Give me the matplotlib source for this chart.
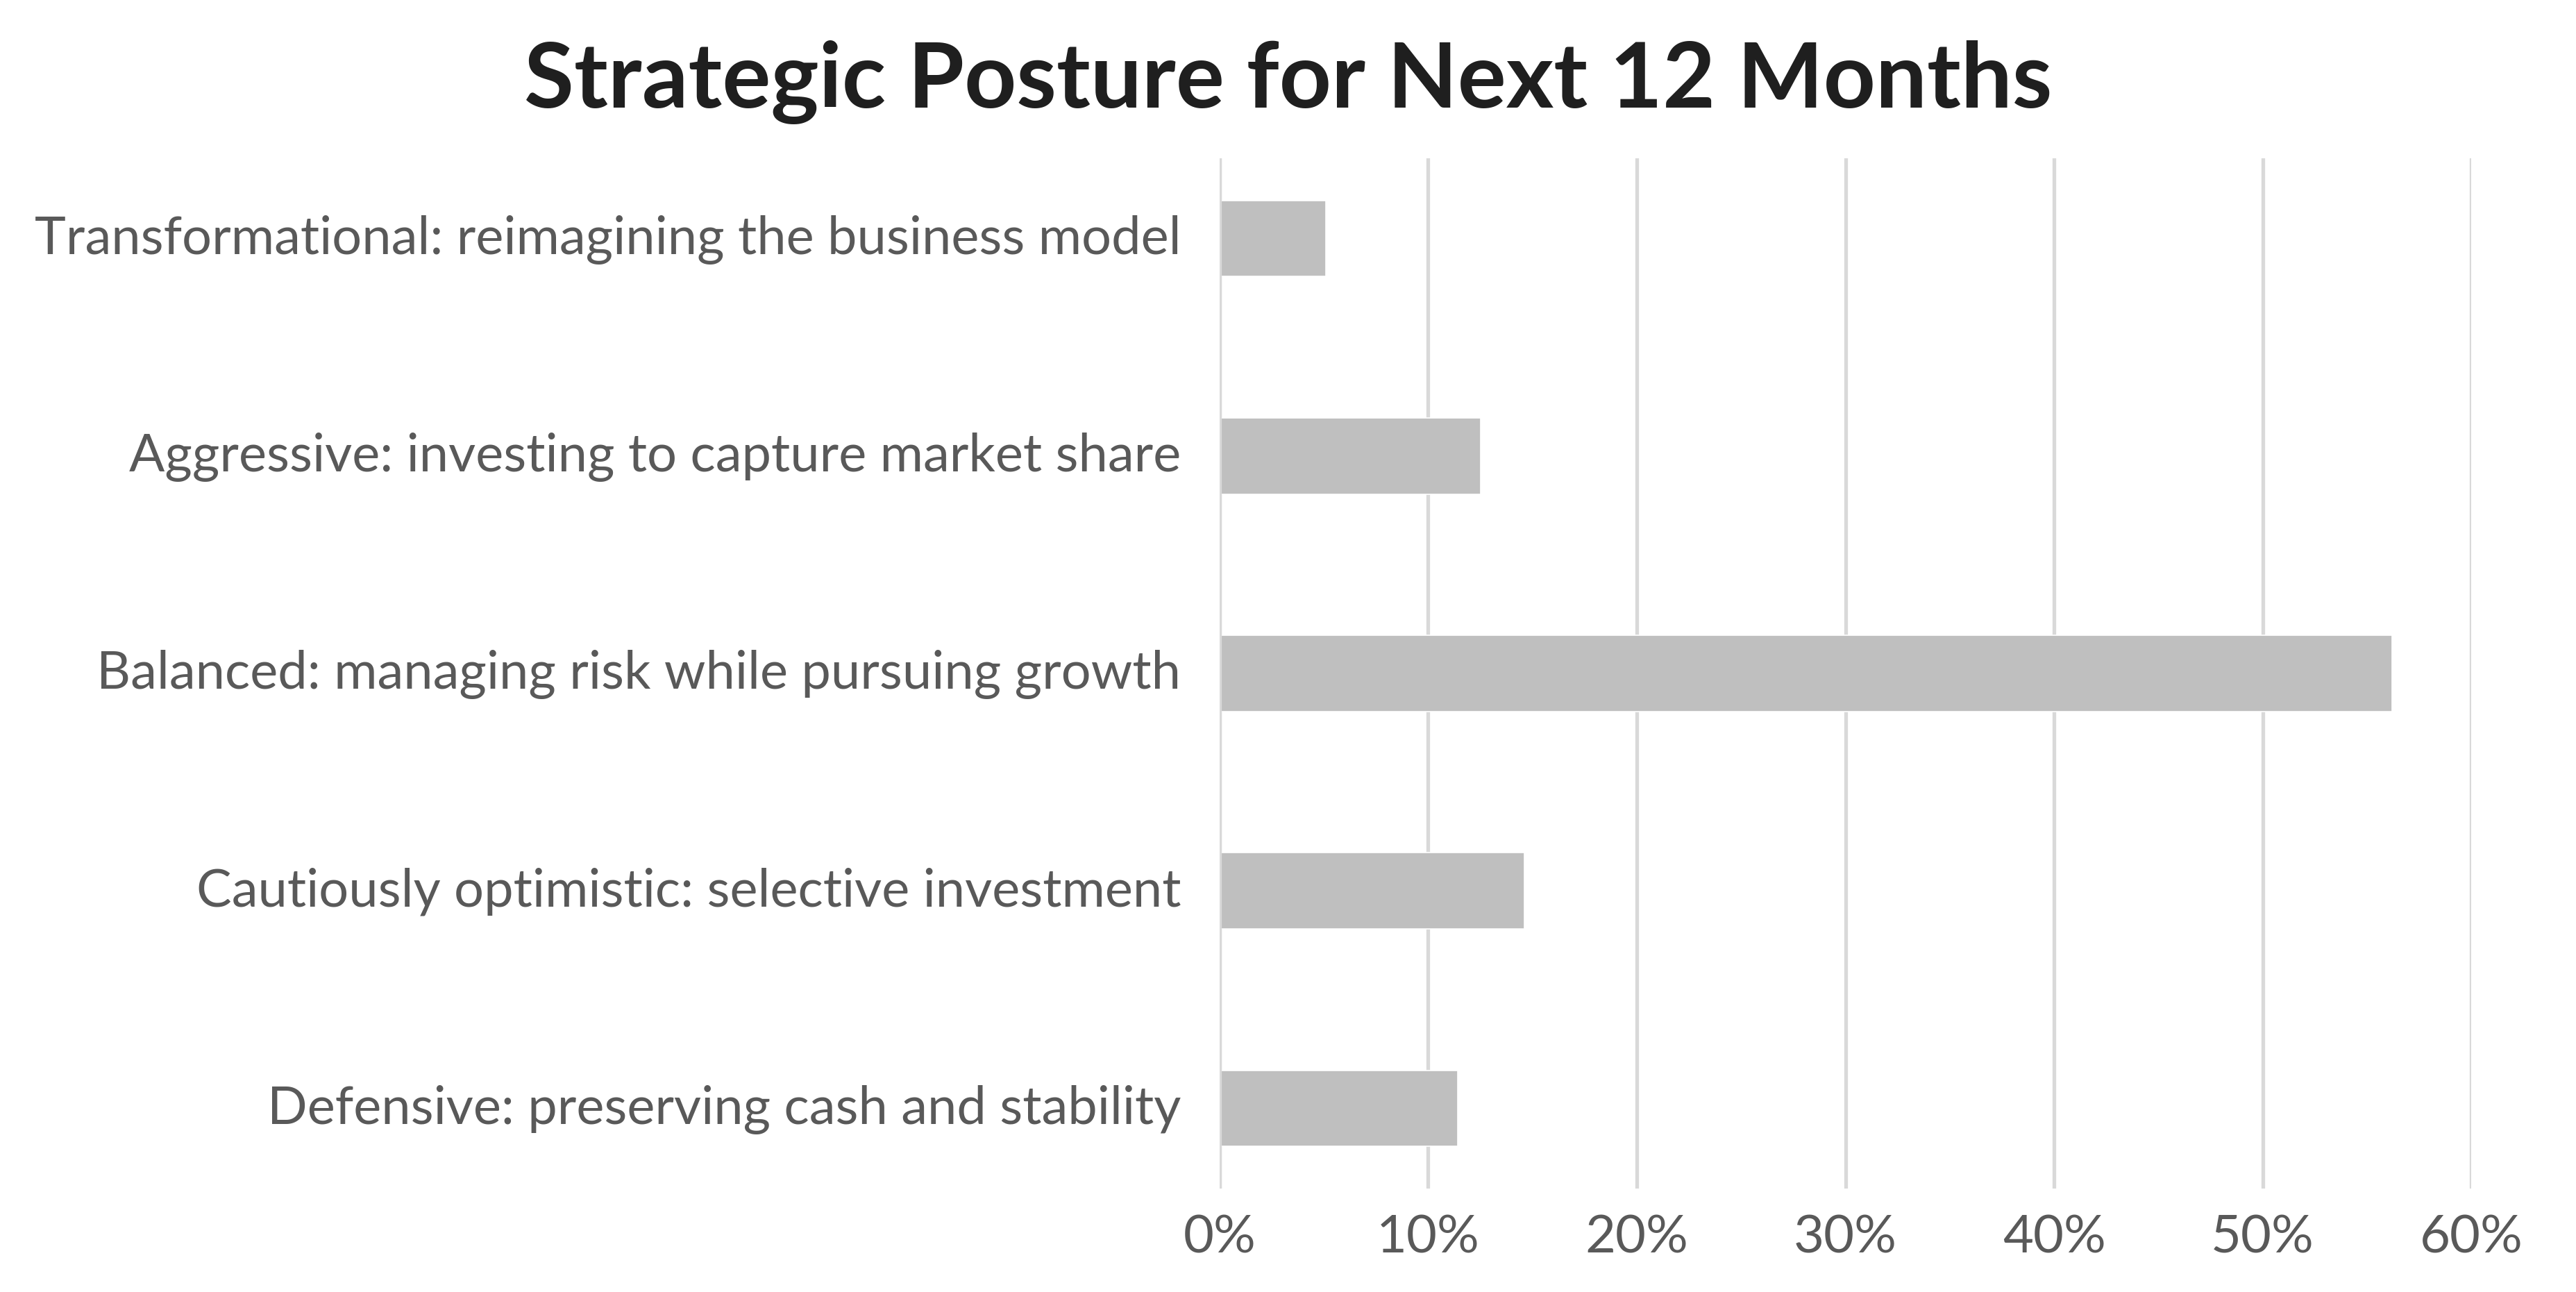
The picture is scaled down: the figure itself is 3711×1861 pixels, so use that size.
import matplotlib
matplotlib.use("Agg")
import matplotlib.pyplot as plt
import matplotlib.transforms as mtransforms
from matplotlib.ticker import FuncFormatter

categories = [
    "Transformational: reimagining the business model",
    "Aggressive: investing to capture market share",
    "Balanced: managing risk while pursuing growth",
    "Cautiously optimistic: selective investment",
    "Defensive: preserving cash and stability",
]
values = [5.1, 12.5, 56.2, 14.6, 11.4]
xticks = [0, 10, 20, 30, 40, 50, 60]
title = "Strategic Posture for Next 12 Months"

plt.rcParams['font.family'] = ['Lato', 'DejaVu Sans']

fig = plt.figure(figsize=(18.56, 9.305), dpi=200)
ax = fig.add_axes([0.4733, 0.0799, 0.4858, 0.7977])

pos = list(range(len(categories)))
ax.barh(pos, values, height=0.35, color="#bfbfbf", edgecolor="white",
        linewidth=0.6, zorder=2)
ax.axvline(0, color="#d9d9d9", linewidth=1.9, zorder=3)

ax.set_xlim(0, 60)
ax.set_ylim(len(categories) - 1 + 0.37, -0.37)
ax.set_xticks(xticks)
ax.xaxis.set_major_formatter(FuncFormatter(lambda v, p: f"{v:.0f}%"))
ax.set_yticks(pos)
ax.set_yticklabels(categories)

ax.grid(axis="x", color="#d9d9d9", linewidth=1.9, zorder=0)
ax.grid(axis="y", visible=False)
ax.set_axisbelow(True)
for s in ax.spines.values():
    s.set_visible(False)

ax.tick_params(axis="x", length=0, pad=13, labelsize=27.3, labelcolor="#595959")
ax.tick_params(axis="y", length=0, pad=20, labelsize=27.3, labelcolor="#595959")

shift = mtransforms.ScaledTranslation(0, 2 / 72, fig.dpi_scale_trans)
for lab in ax.get_yticklabels():
    lab.set_transform(lab.get_transform() + shift)

fig.text(0.5, 1 - 155 / 1861, title, ha="center", va="baseline",
         fontsize=47.2, fontweight="bold", color="#1f1f1f")

fig.savefig("out.png", dpi=200)
